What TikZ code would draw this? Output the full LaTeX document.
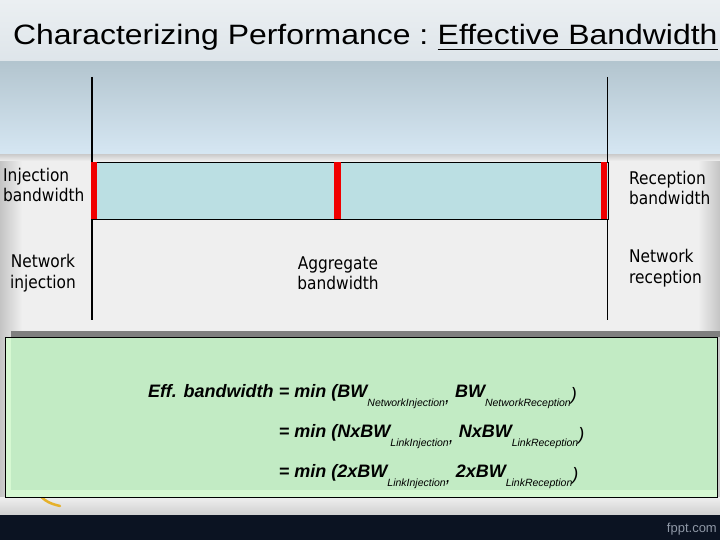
\documentclass[tikz,border=0pt]{standalone}
\usepackage{fontspec}
\setmainfont{Liberation Sans}
\newfontfamily\titlefont{Liberation Sans}[FakeStretch=1.14]
\newfontfamily\lblfont{DejaVu Sans}[FakeStretch=0.88]
\usepackage{xcolor}
\usepackage{graphicx}
\usepackage{tikz}
\usetikzlibrary{positioning, calc}

\definecolor{hdrTop}{HTML}{EBEFF2}
\definecolor{hdrBot}{HTML}{DEE5EA}
\definecolor{bandTop}{HTML}{B3C5CF}
\definecolor{bandBot}{HTML}{D6E7F3}
\definecolor{paneGray}{HTML}{EFEFEF}
\definecolor{edgeGray}{HTML}{C4C4C4}
\definecolor{shadeGray}{HTML}{CFCFCF}
\definecolor{stripGray}{HTML}{7F7F7F}
\definecolor{barBlue}{HTML}{BBDFE3}
\definecolor{portRed}{HTML}{F00000}
\definecolor{eqGreen}{HTML}{C2EBC4}
\definecolor{eqRim}{HTML}{D6F8D2}
\definecolor{footNavy}{HTML}{0B1322}
\definecolor{footText}{HTML}{8E97A5}
\definecolor{swooshGold}{HTML}{E6B12A}

\newcommand{\subtxt}[1]{\raisebox{-9pt}{\fontsize{10.5}{12}\selectfont\mdseries #1}}
\newcommand{\subsep}{\raisebox{-5pt}{\mdseries ,}\hspace{5pt}}
\newcommand{\closep}{\raisebox{-3pt}{\mdseries )}}

\begin{document}
\begin{tikzpicture}[
    x=1pt, y=-1pt,
    lbl/.style={font=\lblfont\fontsize{17.5}{20.5}\selectfont, inner sep=0pt},
    ttl/.style={font=\titlefont\fontsize{28}{32}\selectfont, inner sep=0pt, anchor=base west},
    eqline/.style={font=\bfseries\itshape\fontsize{18}{22}\selectfont, inner sep=0pt, anchor=base west},
    redport/.style={fill=portRed},
    wire/.style={line width=1.5pt}
]
\useasboundingbox (0,0) rectangle (720,540);

% Backdrop
\shade[top color=hdrTop, bottom color=hdrBot] (0,0) rectangle (720,62);
\shade[top color=bandTop, bottom color=bandBot] (0,62) rectangle (720,155);
\fill[paneGray] (0,155) rectangle (720,515);
\shade[left color=edgeGray, right color=paneGray] (0,155) rectangle (22,515);
\shade[left color=paneGray, right color=edgeGray] (698,155) rectangle (720,515);
\shade[top color=shadeGray, bottom color=paneGray] (0,155) rectangle (720,161);
\shade[top color=paneGray, bottom color=shadeGray] (0,497) rectangle (720,515);
\fill[footNavy] (0,515) rectangle (720,540);
\draw[swooshGold, line width=2.5pt, line cap=round] (30,492) .. controls (45,494) and (38,501) .. (60,506);

% Title
\node[ttl] (ttlA) at (13,45) {Characterizing Performance :};
\node[ttl, xshift=9pt] (ttlB) at (ttlA.base east) {Effective Bandwidth};
\draw[line width=1.6pt] ($(ttlB.base west)+(0,4.5)$) -- ($(ttlB.base east)+(0,4.5)$);

% Injection and reception sides
\coordinate (injTop) at (92,77);
\coordinate (injBot) at (92,320);
\coordinate (recTop) at (607.5,77);
\coordinate (recBot) at (607.5,320);
\draw[wire] (injTop) -- (injBot);
\draw[wire] (recTop) -- (recBot);

% Aggregate bar
\node[draw, fill=barBlue, line width=1.3pt, minimum width=515.5pt, minimum height=57pt,
      inner sep=0pt, anchor=north west] (agg) at (92,162) {};
\fill[redport] (90.5,162) rectangle (96.5,219);
\fill[redport] (334,162) rectangle (340.5,219);
\fill[redport] (600.5,162) rectangle (606.8,219);

% Labels
\node[lbl, align=left, anchor=west] (injBW) at (3,185) {Injection\\bandwidth};
\node[lbl, align=center] (netInj) at (43,273) {Network\\injection};
\node[lbl, align=center] (aggBW) at (338,273) {Aggregate\\bandwidth};
\node[lbl, align=left, anchor=west] (recBW) at (629,188) {Reception\\bandwidth};
\node[lbl, align=left, anchor=west] (netRec) at (629,268) {Network\\reception};

% Formula panel
\fill[stripGray] (11,331) rectangle (720,337);
\draw[fill=eqRim, line width=1pt] (5,337) rectangle (717,497);
\fill[eqGreen] (11,337.5) rectangle (716.5,490);

\node[eqline] (eqLead) at (148,397) {Eff. bandwidth};
\node[eqline, xshift=5pt] (eqA) at (eqLead.base east) {= min (BW\subtxt{NetworkInjection}\subsep BW\subtxt{NetworkReception}\closep};
\node[eqline] (eqB) at ($(eqA.base west)+(0,40)$) {= min (NxBW\subtxt{LinkInjection}\subsep NxBW\subtxt{LinkReception}\closep};
\node[eqline] (eqC) at ($(eqA.base west)+(0,80)$) {= min (2xBW\subtxt{LinkInjection}\subsep 2xBW\subtxt{LinkReception}\closep};

% Footer
\node[font=\fontsize{13}{15}\selectfont, text=footText, anchor=east, inner sep=0pt] (site) at (717,529) {fppt.com};

\end{tikzpicture}
\end{document}
